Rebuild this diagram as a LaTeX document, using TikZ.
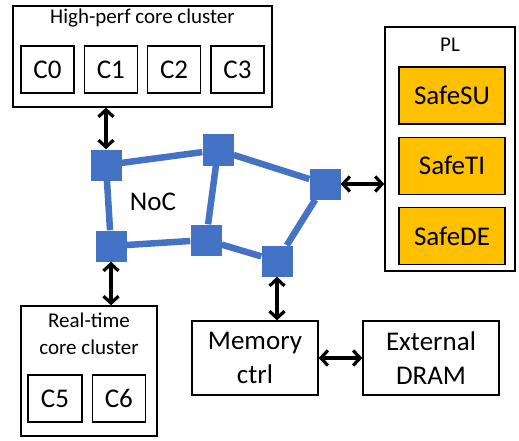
\documentclass[tikz,border=0pt]{standalone}
\usepackage{fontspec}
\setmainfont{Carlito}
\usepackage{tikz}
\usetikzlibrary{arrows.meta, positioning}
\definecolor{nocblue}{HTML}{4472C4}
\definecolor{plorange}{HTML}{FFC000}
\newcommand{\smalltxt}{\fontsize{21}{27}\selectfont}
\newcommand{\bigtxt}{\fontsize{27}{34}\selectfont}

\begin{document}
\begin{tikzpicture}[
				x=1pt, y=-1pt,
				>={Straight Barb[length=7pt, width=15pt]},
				box/.style={draw, line width=1.3pt, rectangle, inner sep=0pt},
				core/.style={box, minimum width=53pt, minimum height=47pt, font=\bigtxt},
				safe/.style={box, fill=plorange, minimum width=106pt, minimum height=57pt, font=\bigtxt},
				router/.style={rectangle, fill=nocblue, minimum size=31pt, inner sep=0pt},
				link/.style={nocblue, line width=6.5pt},
				bus/.style={<->, line width=3.2pt}]

			\useasboundingbox (0,0) rectangle (519,441);

			% high-perf cluster
			\node[box, minimum width=259pt, minimum height=101pt] (hp) at (142.5,56.5) {};
			\node[font=\smalltxt] (hptitle) at (142.5,18) {High-perf core cluster};
			\node[core] (c0) at (47.5,69.5) {C0};
			\node[core, right=9pt of c0] (c1) {C1};
			\node[core, right=9pt of c1] (c2) {C2};
			\node[core, right=9pt of c2] (c3) {C3};

			% NoC
			\node[router] (r1) at (106,165) {};
			\node[router] (r2) at (218,150) {};
			\node[router] (r3) at (325,184) {};
			\node[router] (r4) at (111,246) {};
			\node[router] (r5) at (206,240) {};
			\node[router] (r6) at (277,261) {};
			\draw[link] (r1) -- (r2) (r2) -- (r3) (r3) -- (r6) (r6) -- (r5) (r5) -- (r4) (r4) -- (r1) (r2) -- (r5);
			\node[font=\bigtxt] (noc) at (153,202) {NoC};

			% PL
			\node[box, minimum width=130pt, minimum height=244pt] (pl) at (450,149) {};
			\node[font=\smalltxt] (pltitle) at (450,45) {PL};
			\node[safe] (safesu) at (452,95.5) {SafeSU};
			\node[safe, below=12pt of safesu] (safeti) {SafeTI};
			\node[safe, below=12pt of safeti] (safede) {SafeDE};

			% real-time cluster
			\node[box, minimum width=136pt, minimum height=130pt] (rt) at (89,371) {};
			\node[font=\smalltxt, align=center] (rttitle) at (89,334) {Real-time\\core cluster};
			\node[core, minimum width=54pt] (c5) at (55,398.5) {C5};
			\node[core, right=9pt of c5] (c6) {C6};

			% memory
			\node[box, minimum width=126pt, minimum height=74pt, font=\bigtxt, align=center] (mem) at (255,358) {Memory\\ctrl};
			\node[box, minimum width=136pt, minimum height=74pt, font=\bigtxt, align=center] (dram) at (431,358) {External\\DRAM};

			\draw[bus] (hp.south -| r1) -- (r1.north);
			\draw[bus] (r4.south) -- (rt.north -| r4);
			\draw[bus] (r6.south) -- (mem.north -| r6);
			\draw[bus] (r3.east) -- (pl.west |- r3);
			\draw[bus] (mem) -- (dram);

		\end{tikzpicture}
\end{document}
